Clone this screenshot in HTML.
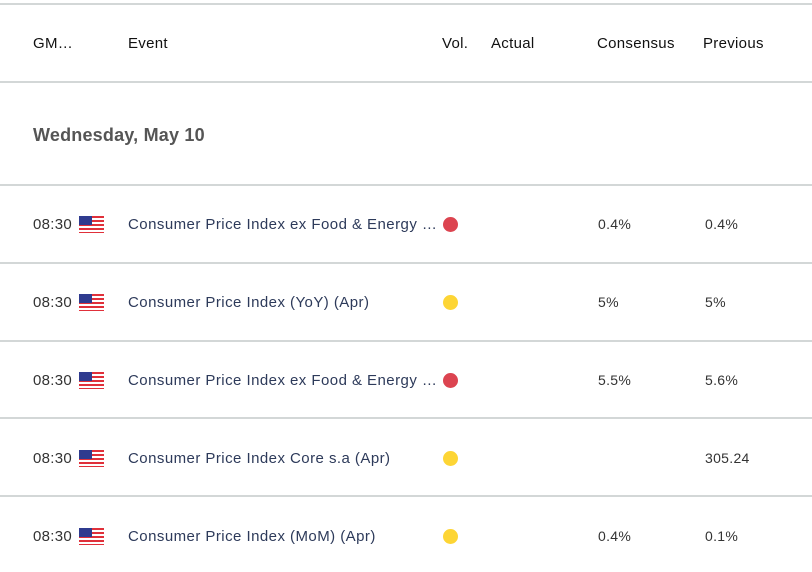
<!DOCTYPE html>
<html><head><style>
body{margin:0;width:812px;height:572px;background:#fff;font-family:"Liberation Sans",sans-serif;position:relative;overflow:hidden}
.t{position:absolute;white-space:nowrap;line-height:1}
.h{font-size:15px;color:#111;top:36px;letter-spacing:0.3px}
.l{position:absolute;left:0;width:812px;height:2px;background:#d3d7d7}
.tm{font-size:15px;color:#333;left:33px;letter-spacing:0.3px}
.ev{font-size:15px;color:#2d3a5a;left:128px;letter-spacing:0.45px}
.v{font-size:14px;color:#333;letter-spacing:0.3px}
.d{position:absolute;width:15px;height:15px;border-radius:50%;left:443px}
.f{position:absolute;left:79px;width:25px;height:17px;background:repeating-linear-gradient(#e0303a 0 2px,#fff 2px 4px)}
.f:before{content:"";position:absolute;left:0;top:0;width:13px;height:9px;background:#2f3b8f}
</style></head><body>
<div class="l" style="top:3px"></div>
<div class="t h" style="left:33px">GM…</div>
<div class="t h" style="left:128px">Event</div>
<div class="t h" style="left:442px">Vol.</div>
<div class="t h" style="left:491px">Actual</div>
<div class="t h" style="left:597px">Consensus</div>
<div class="t h" style="left:703px">Previous</div>
<div class="l" style="top:81px"></div>
<div class="t" style="left:33px;top:126px;font-size:18px;color:#555;font-weight:bold;letter-spacing:0.2px">Wednesday, May 10</div>
<div class="l" style="top:184px"></div>

<div class="t tm" style="top:217px">08:30</div><div class="f" style="top:216px"></div>
<div class="t ev" style="top:217px">Consumer Price Index ex Food &amp; Energy …</div>
<div class="d" style="top:217px;background:#dc4450"></div>
<div class="t v" style="left:598px;top:217px">0.4%</div><div class="t v" style="left:705px;top:217px">0.4%</div>
<div class="l" style="top:262px"></div>

<div class="t tm" style="top:295px">08:30</div><div class="f" style="top:294px"></div>
<div class="t ev" style="top:295px">Consumer Price Index (YoY) (Apr)</div>
<div class="d" style="top:295px;background:#fdd535"></div>
<div class="t v" style="left:598px;top:295px">5%</div><div class="t v" style="left:705px;top:295px">5%</div>
<div class="l" style="top:340px"></div>

<div class="t tm" style="top:373px">08:30</div><div class="f" style="top:372px"></div>
<div class="t ev" style="top:373px">Consumer Price Index ex Food &amp; Energy …</div>
<div class="d" style="top:373px;background:#dc4450"></div>
<div class="t v" style="left:598px;top:373px">5.5%</div><div class="t v" style="left:705px;top:373px">5.6%</div>
<div class="l" style="top:417px"></div>

<div class="t tm" style="top:451px">08:30</div><div class="f" style="top:450px"></div>
<div class="t ev" style="top:451px">Consumer Price Index Core s.a (Apr)</div>
<div class="d" style="top:451px;background:#fdd535"></div>
<div class="t v" style="left:705px;top:451px">305.24</div>
<div class="l" style="top:495px"></div>

<div class="t tm" style="top:529px">08:30</div><div class="f" style="top:528px"></div>
<div class="t ev" style="top:529px">Consumer Price Index (MoM) (Apr)</div>
<div class="d" style="top:529px;background:#fdd535"></div>
<div class="t v" style="left:598px;top:529px">0.4%</div><div class="t v" style="left:705px;top:529px">0.1%</div>
</body></html>
